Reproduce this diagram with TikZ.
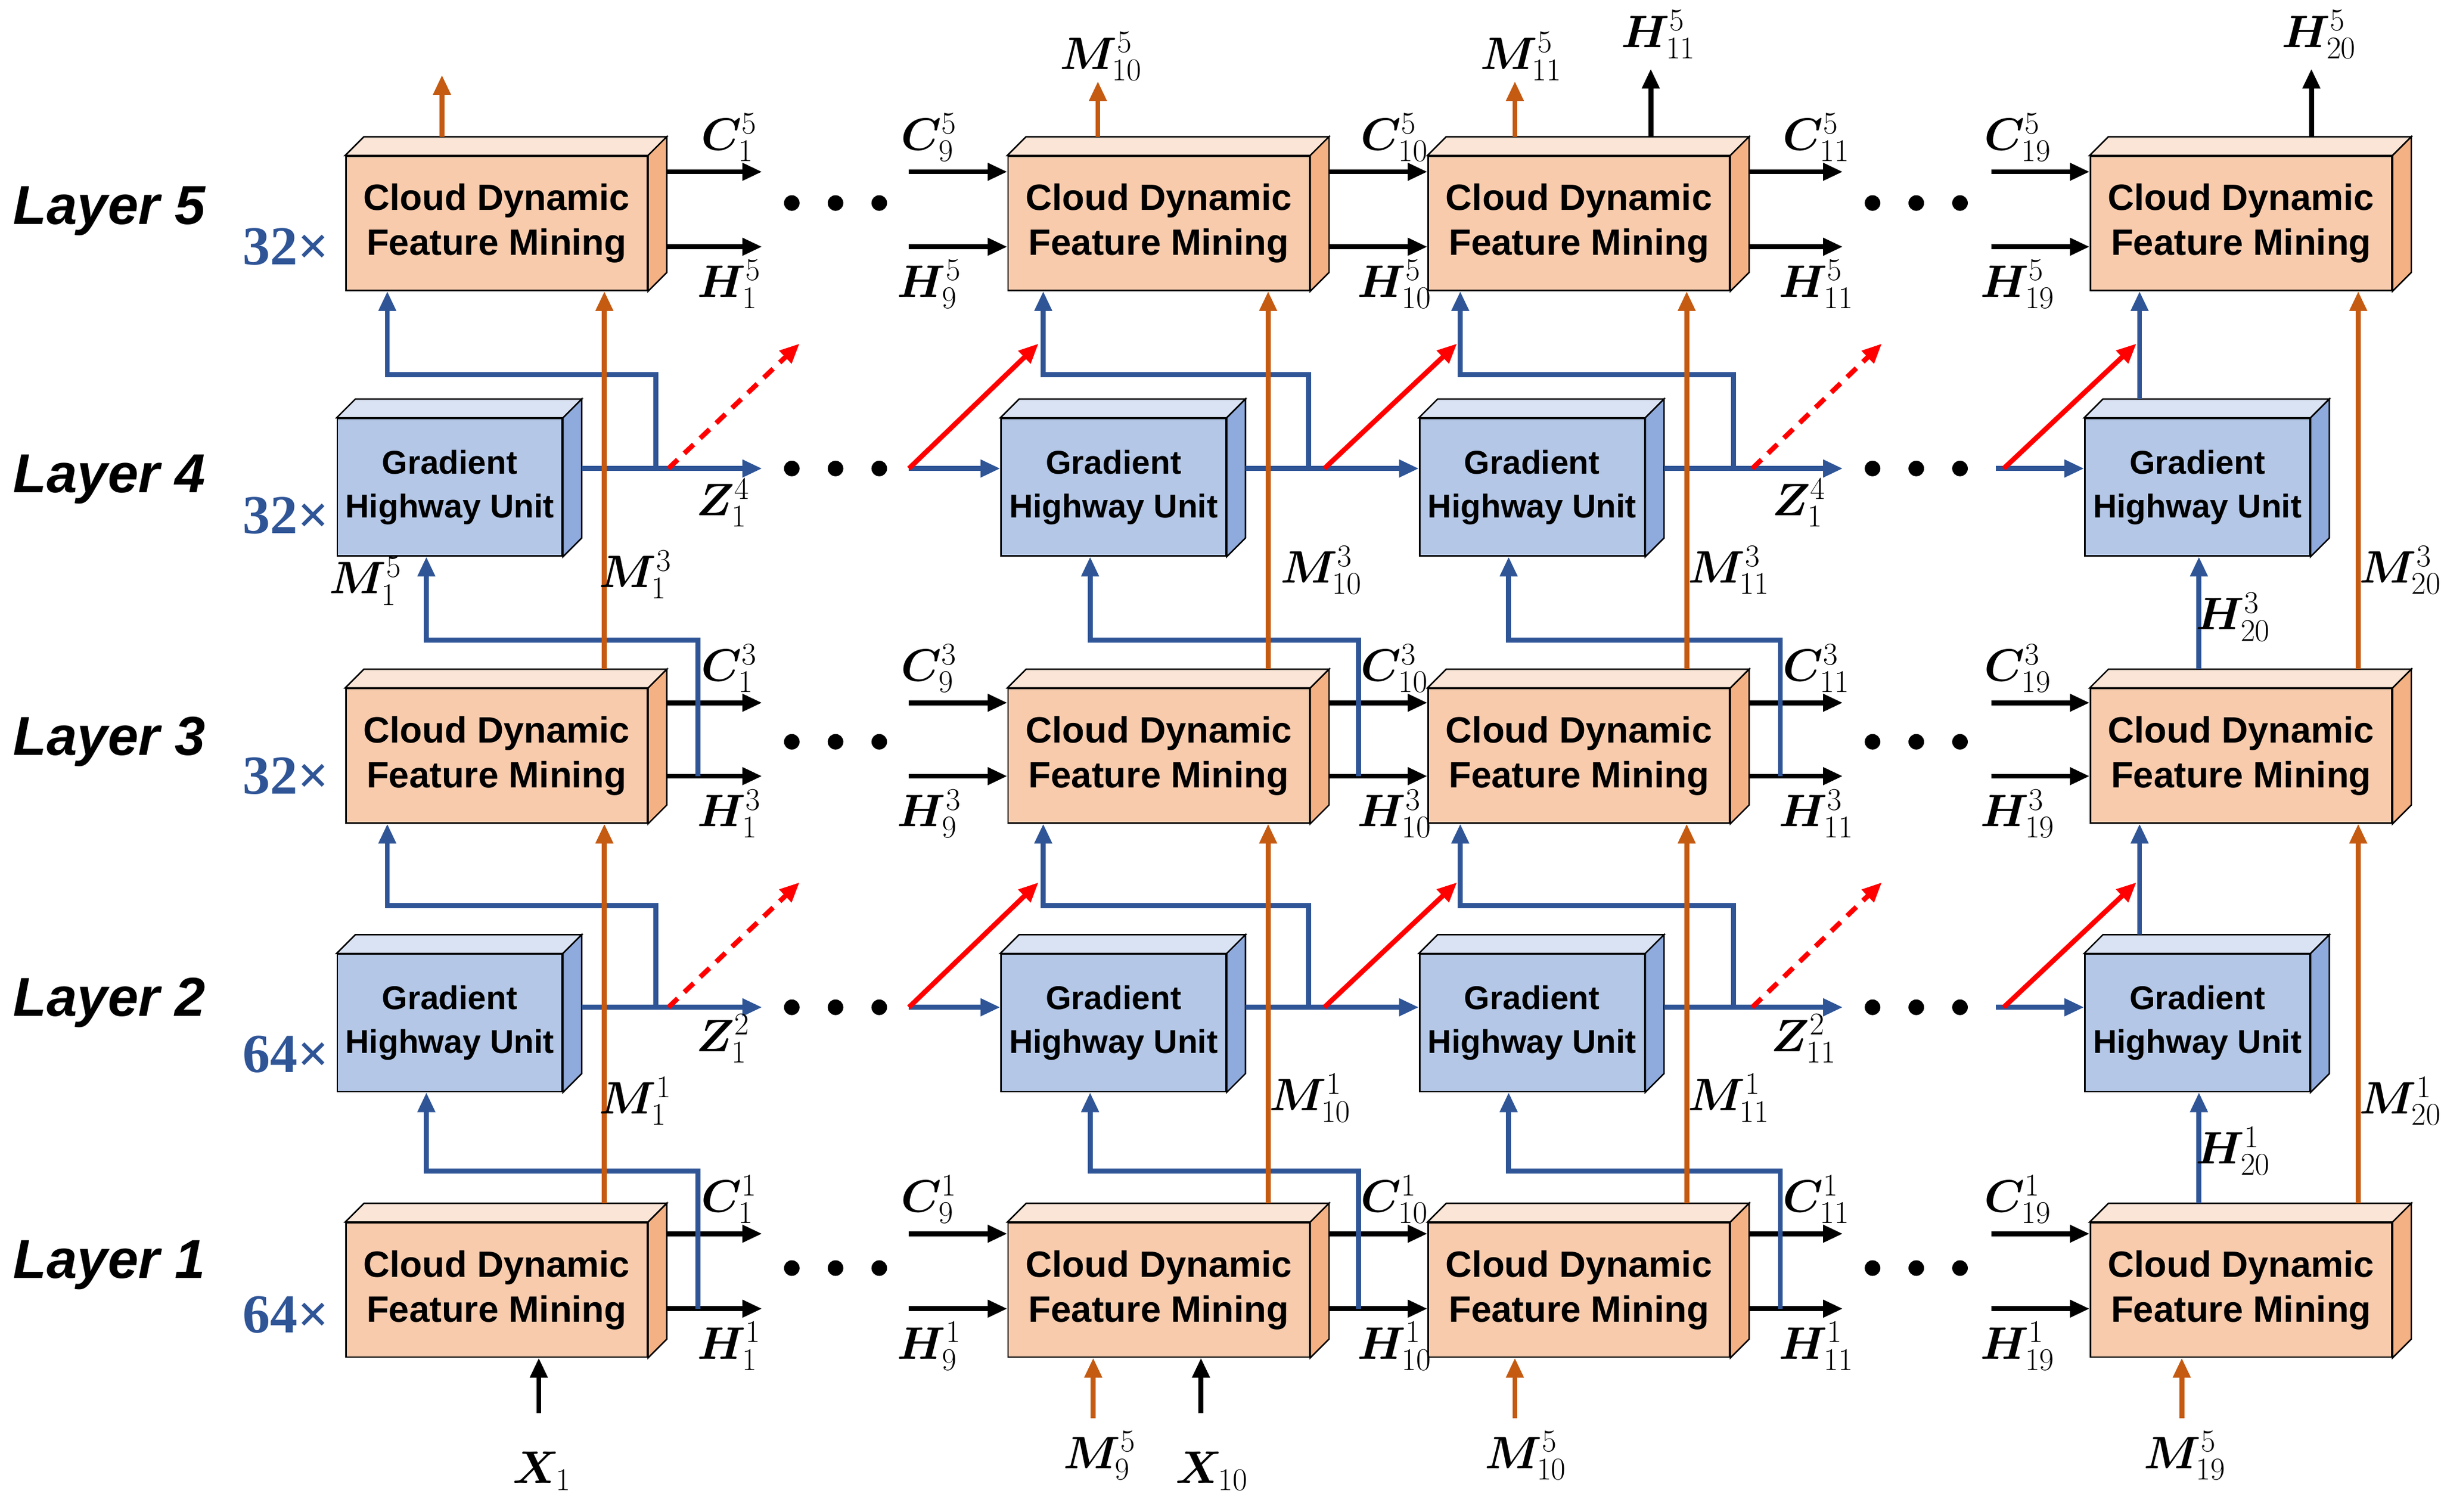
\documentclass[tikz,border=0pt]{standalone}
\usepackage{fontspec,amsmath,bm}
\setmainfont{Liberation Sans}
\newfontfamily\tnr{Liberation Serif}
\usetikzlibrary{arrows.meta,calc}
\definecolor{orfront}{HTML}{F8CBAD}
\definecolor{ortop}{HTML}{FBE5D6}
\definecolor{orside}{HTML}{F4B183}
\definecolor{blfront}{HTML}{B4C7E7}
\definecolor{bltop}{HTML}{DAE3F3}
\definecolor{blside}{HTML}{8FAADC}
\definecolor{bline}{HTML}{2F5597}
\definecolor{oline}{HTML}{C55A11}
\newcommand\cdfmbox[3]{%
  \node[cdfm] (#1) at (#2,#3) {Cloud Dynamic\\Feature Mining};
  \draw[thick,fill=ortop] (#1.north west) -- ++(12,-12) -- ([shift={(12,-12)}]#1.north east) -- (#1.north east) -- cycle;
  \draw[thick,fill=orside] (#1.north east) -- ++(12,-12) -- ([shift={(12,-12)}]#1.south east) -- (#1.south east) -- cycle;}
\newcommand\ghubox[3]{%
  \node[ghu] (#1) at (#2,#3) {Gradient\\Highway Unit};
  \draw[thick,fill=bltop] (#1.north west) -- ++(12,-12) -- ([shift={(12,-12)}]#1.north east) -- (#1.north east) -- cycle;
  \draw[thick,fill=blside] (#1.north east) -- ++(12,-12) -- ([shift={(12,-12)}]#1.south east) -- (#1.south east) -- cycle;}
\begin{document}
\begin{tikzpicture}[x=0.03cm,y=-0.03cm,
  cdfm/.style={draw, thick, fill=orfront, minimum width=5.79cm, minimum height=2.58cm, inner sep=0, align=center, font=\fontsize{20}{24.5}\selectfont\bfseries},
  ghu/.style={draw, thick, fill=blfront, minimum width=4.32cm, minimum height=2.64cm, inner sep=0, align=center, font=\fontsize{18}{24}\selectfont\bfseries},
  tip/.style={-{Triangle[length=0.38cm,width=0.32cm]}},
  bk/.style={tip, line width=2.7pt},
  bl/.style={tip, line width=2.7pt, bline},
  or/.style={tip, line width=2.7pt, oline},
  rd/.style={tip, line width=2.7pt, red},
  rdd/.style={rd, dash pattern=on 7pt off 5pt},
  lab/.style={inner sep=0, font=\fontsize{24}{24}\selectfont},
  layer/.style={inner sep=0, font=\fontsize{30}{30}\selectfont\bfseries\itshape},
  times/.style={inner sep=0, text=bline, font=\fontsize{30}{30}\selectfont\tnr\bfseries}]
\useasboundingbox (0,0) rectangle (1563,968);
% boxes
\foreach \c/\x in {1/318,2/742,3/1011,4/1435}
  \foreach \r/\y in {1/826,3/484,5/143}
    {\cdfmbox{c\c\r}{\x}{\y}}
\foreach \c/\x in {1/288,2/713,3/981,4/1407}
  \foreach \r/\y in {2/655,4/312}
    {\ghubox{g\c\r}{\x}{\y}}
% layer names
\foreach \r/\y/\n/\ty in {5/135/32/158,4/307/32/330,3/475/32/497,2/642/64/675,1/810/64/842}{
  \node[layer] (ly\r) at (70,\y) {Layer \r};
  \node[times] (tm\r) at (183,\ty) {\n×};
}
% dots
\foreach \y in {130,300,475,645,812}
  \foreach \x in {535,1227}
    \foreach \dx in {-28,0,28}
      \fill (\x+\dx,\y) circle (0.15cm);
% C and H lines
\foreach \r/\yc/\yh in {5/110/158,3/450/497,1/790/838}{
  \draw[bk] ($(c1\r.east|-0,\yc)+(12,0)$) -- (488,\yc);
  \draw[bk] ($(c1\r.east|-0,\yh)+(12,0)$) -- (488,\yh);
  \draw[bk] (582,\yc) -- (c2\r.west|-0,\yc);
  \draw[bk] (582,\yh) -- (c2\r.west|-0,\yh);
  \draw[bk] ($(c2\r.east|-0,\yc)+(12,0)$) -- (c3\r.west|-0,\yc);
  \draw[bk] ($(c2\r.east|-0,\yh)+(12,0)$) -- (c3\r.west|-0,\yh);
  \draw[bk] ($(c3\r.east|-0,\yc)+(12,0)$) -- (1180,\yc);
  \draw[bk] ($(c3\r.east|-0,\yh)+(12,0)$) -- (1180,\yh);
  \draw[bk] (1275,\yc) -- (c4\r.west|-0,\yc);
  \draw[bk] (1275,\yh) -- (c4\r.west|-0,\yh);
  \node[lab] (lc1\r) at (467,{\yc-22}) {$\bm{C}^{\r}_{1}$};
  \node[lab] (lh1\r) at (467,{\yh+24}) {$\bm{H}^{\r}_{1}$};
  \node[lab] (lc9\r) at (595,{\yc-22}) {$\bm{C}^{\r}_{9}$};
  \node[lab] (lh9\r) at (595,{\yh+24}) {$\bm{H}^{\r}_{9}$};
  \node[lab] (lc10\r) at (893,{\yc-22}) {$\bm{C}^{\r}_{10}$};
  \node[lab] (lh10\r) at (893,{\yh+24}) {$\bm{H}^{\r}_{10}$};
  \node[lab] (lc11\r) at (1163,{\yc-22}) {$\bm{C}^{\r}_{11}$};
  \node[lab] (lh11\r) at (1163,{\yh+24}) {$\bm{H}^{\r}_{11}$};
  \node[lab] (lc19\r) at (1292,{\yc-22}) {$\bm{C}^{\r}_{19}$};
  \node[lab] (lh19\r) at (1292,{\yh+24}) {$\bm{H}^{\r}_{19}$};
}
% CDFM up to GHU
\foreach \r/\rr/\yh/\yt in {1/2/838/750,3/4/497/410}{
  \draw[bl] (447,\yh) -- (447,\yt) -- (273,\yt) -- (g1\rr.south-|273,0);
  \draw[bl] (870,\yh) -- (870,\yt) -- (698,\yt) -- (g2\rr.south-|698,0);
  \draw[bl] (1140,\yh) -- (1140,\yt) -- (966,\yt) -- (g3\rr.south-|966,0);
  \draw[bl] ($(c4\r.north-|1408,0)+(0,-12)$) -- (g4\rr.south-|1408,0);
}
% GHU outputs
\foreach \r/\rr/\y/\yt in {2/3/645/580,4/5/300/240}{
  \draw[bl] ($(g1\r.east|-0,\y)+(12,0)$) -- (488,\y);
  \draw[bl] (420,\y) -- (420,\yt) -- (248,\yt) -- (c1\rr.south-|248,0);
  \draw[rdd] (428,\y) -- (512,{\y-80});
  \draw[bl] (582,\y) -- (g2\r.west|-0,\y);
  \draw[rd] (582,\y) -- (665,{\y-80});
  \draw[bl] ($(g2\r.east|-0,\y)+(12,0)$) -- (g3\r.west|-0,\y);
  \draw[bl] (838,\y) -- (838,\yt) -- (668,\yt) -- (c2\rr.south-|668,0);
  \draw[rd] (848,\y) -- (933,{\y-80});
  \draw[bl] ($(g3\r.east|-0,\y)+(12,0)$) -- (1180,\y);
  \draw[bl] (1110,\y) -- (1110,\yt) -- (935,\yt) -- (c3\rr.south-|935,0);
  \draw[rdd] (1122,\y) -- (1205,{\y-80});
  \draw[bl] (1278,\y) -- (g4\r.west|-0,\y);
  \draw[rd] (1283,\y) -- (1368,{\y-80});
  \draw[bl] ($(g4\r.north-|1370,0)+(0,-12)$) -- (c4\rr.south-|1370,0);
}
% orange memory lines
\foreach \c/\o in {1/387,2/812,3/1080,4/1510}{
  \draw[or] ($(c\c1.north-|\o,0)+(0,-12)$) -- (c\c3.south-|\o,0);
  \draw[or] ($(c\c3.north-|\o,0)+(0,-12)$) -- (c\c5.south-|\o,0);
}
% top and bottom arrows
\draw[or] ($(c15.north-|283,0)+(0,-12)$) -- (283,48);
\draw[or] ($(c25.north-|703,0)+(0,-12)$) -- (703,52);
\draw[or] ($(c35.north-|970,0)+(0,-12)$) -- (970,52);
\draw[bk] ($(c35.north-|1057,0)+(0,-12)$) -- (1057,44);
\draw[bk] ($(c45.north-|1480,0)+(0,-12)$) -- (1480,44);
\draw[bk] (345,905) -- (c11.south-|345,0);
\draw[or] (700,908) -- (c21.south-|700,0);
\draw[bk] (769,905) -- (c21.south-|769,0);
\draw[or] (970,908) -- (c31.south-|970,0);
\draw[or] (1397,908) -- (c41.south-|1397,0);
% labels
\node[lab] (m105t) at (705,36) {$\bm{M}^{5}_{10}$};
\node[lab] (m115t) at (974,36) {$\bm{M}^{5}_{11}$};
\node[lab] (h115t) at (1062,22) {$\bm{H}^{5}_{11}$};
\node[lab] (h205t) at (1485,22) {$\bm{H}^{5}_{20}$};
\node[lab] (x1) at (347,942) {$\bm{X}_{1}$};
\node[lab] (x10) at (776,942) {$\bm{X}_{10}$};
\node[lab] (m95b) at (704,932) {$\bm{M}^{5}_{9}$};
\node[lab] (m105b) at (977,932) {$\bm{M}^{5}_{10}$};
\node[lab] (m195b) at (1399,932) {$\bm{M}^{5}_{19}$};
\node[lab] (m15) at (234,372) {$\bm{M}^{5}_{1}$};
\node[lab] (m13) at (407,368) {$\bm{M}^{3}_{1}$};
\node[lab] (m11) at (407,705) {$\bm{M}^{1}_{1}$};
\node[lab] (m103) at (846,365) {$\bm{M}^{3}_{10}$};
\node[lab] (m101) at (839,703) {$\bm{M}^{1}_{10}$};
\node[lab] (m113) at (1107,365) {$\bm{M}^{3}_{11}$};
\node[lab] (m111) at (1107,703) {$\bm{M}^{1}_{11}$};
\node[lab] (m203) at (1537,365) {$\bm{M}^{3}_{20}$};
\node[lab] (m201) at (1537,705) {$\bm{M}^{1}_{20}$};
\node[lab] (h203) at (1430,395) {$\bm{H}^{3}_{20}$};
\node[lab] (h201) at (1430,737) {$\bm{H}^{1}_{20}$};
\node[lab] (z14a) at (463,322) {$\bm{Z}^{4}_{1}$};
\node[lab] (z12) at (463,665) {$\bm{Z}^{2}_{1}$};
\node[lab] (z14b) at (1152,322) {$\bm{Z}^{4}_{1}$};
\node[lab] (z112) at (1155,665) {$\bm{Z}^{2}_{11}$};
\end{tikzpicture}
\end{document}
